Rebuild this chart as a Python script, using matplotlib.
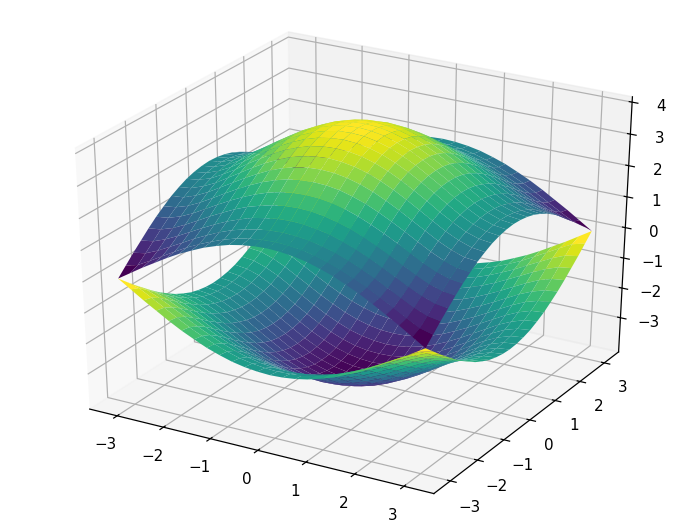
#!/usr/bin/env python
"""Two-band surface, values read off the reference. One quadrant is typed, the rest mirrors it."""
import numpy as np
import matplotlib
matplotlib.use("Agg")
import matplotlib.pyplot as plt

k_x = np.linspace(-np.pi, np.pi, 25)
k_y = np.linspace(-np.pi, np.pi, 25)
z_ticks = [-3, -2, -1, 0, 1, 2, 3, 4]

# rows and columns run from the centre (k=0) out to the zone edge (k=pi)
quadrant = np.array([
    [4.00, 3.97, 3.90, 3.77, 3.61, 3.40, 3.16, 2.91, 2.65, 2.40, 2.19, 2.05, 2.00],
    [3.97, 3.95, 3.87, 3.75, 3.58, 3.38, 3.14, 2.89, 2.63, 2.38, 2.17, 2.03, 1.98],
    [3.90, 3.87, 3.80, 3.68, 3.51, 3.31, 3.08, 2.83, 2.57, 2.32, 2.12, 1.98, 1.93],
    [3.77, 3.75, 3.68, 3.56, 3.40, 3.20, 2.97, 2.73, 2.47, 2.24, 2.03, 1.90, 1.85],
    [3.61, 3.58, 3.51, 3.40, 3.24, 3.05, 2.83, 2.59, 2.35, 2.11, 1.92, 1.78, 1.73],
    [3.40, 3.38, 3.31, 3.20, 3.05, 2.86, 2.65, 2.42, 2.19, 1.96, 1.77, 1.63, 1.59],
    [3.16, 3.14, 3.08, 2.97, 2.83, 2.65, 2.45, 2.23, 2.00, 1.78, 1.59, 1.46, 1.41],
    [2.91, 2.89, 2.83, 2.73, 2.59, 2.42, 2.23, 2.02, 1.80, 1.58, 1.40, 1.27, 1.22],
    [2.65, 2.63, 2.57, 2.47, 2.35, 2.19, 2.00, 1.80, 1.58, 1.37, 1.18, 1.05, 1.00],
    [2.40, 2.38, 2.32, 2.24, 2.11, 1.96, 1.78, 1.58, 1.37, 1.16, 0.97, 0.82, 0.76],
    [2.19, 2.17, 2.12, 2.03, 1.92, 1.77, 1.59, 1.40, 1.18, 0.97, 0.76, 0.59, 0.52],
    [2.05, 2.03, 1.98, 1.90, 1.78, 1.63, 1.46, 1.27, 1.05, 0.82, 0.59, 0.37, 0.26],
    [2.00, 1.98, 1.93, 1.85, 1.73, 1.59, 1.41, 1.22, 1.00, 0.76, 0.52, 0.26, 0.00],
])

idx = np.abs(np.arange(-12, 13))
band_upper = quadrant[np.ix_(idx, idx)]
band_lower = -band_upper

X, Y = np.meshgrid(k_x, k_y)

fig = plt.figure(figsize=(698 / 109, 523 / 109), dpi=109)
ax = fig.add_axes([0, 0, 1, 1], projection="3d", computed_zorder=False)
# old mplot3d look: the cube is stretched to fill the whole figure
ax.apply_aspect = lambda position=None: None
ax.set_box_aspect((1, 1, 1), zoom=0.957)
ax.plot_surface(X, Y, band_lower, cmap="viridis", rstride=1, cstride=1, zorder=1)
ax.plot_surface(X, Y, band_upper, cmap="viridis", rstride=1, cstride=1, zorder=2)
ax.set_zticks(z_ticks)
fig.savefig("out.png", dpi=109)
